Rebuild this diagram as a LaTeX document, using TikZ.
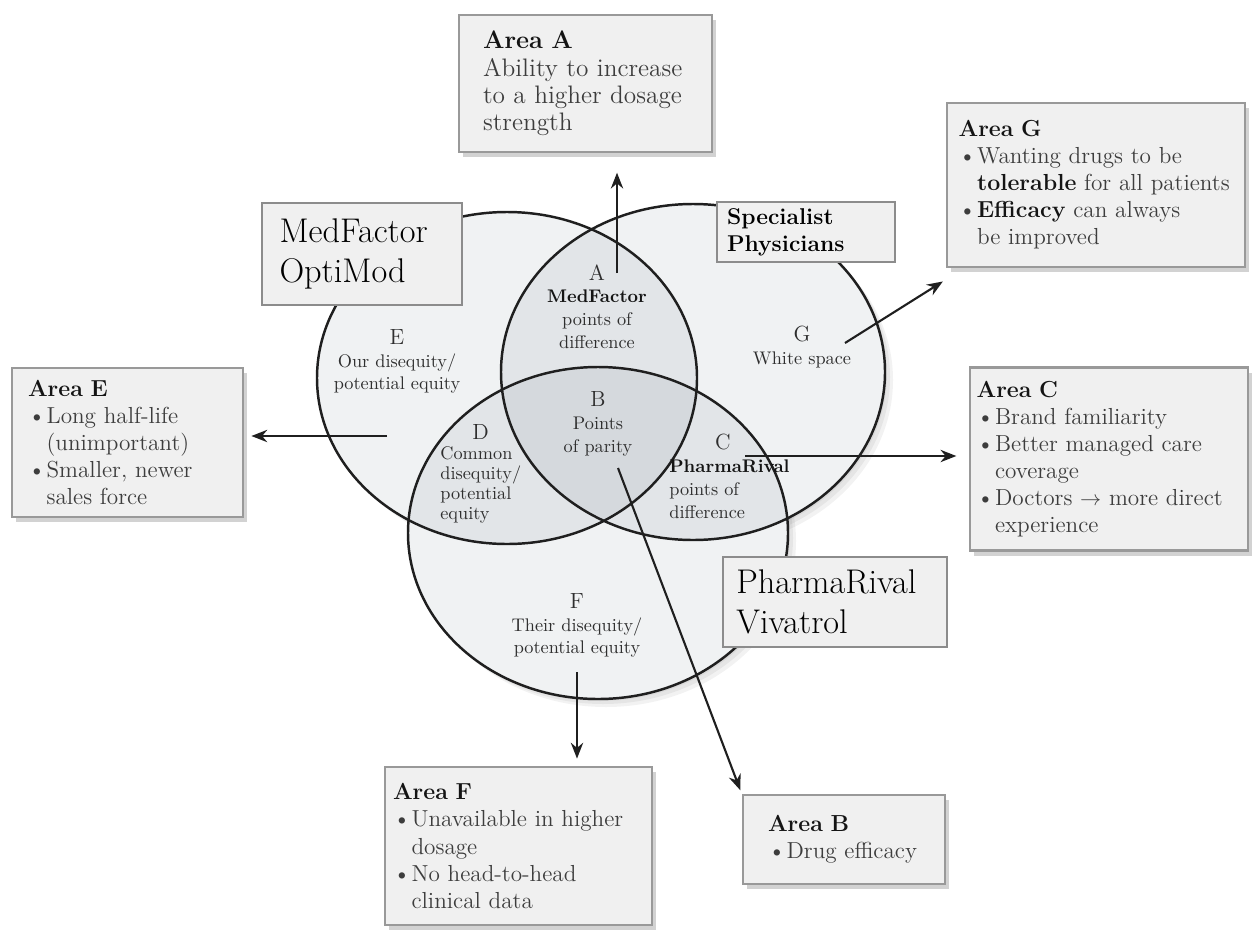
\documentclass[tikz,border=0pt]{standalone}
\usepackage{xcolor}
\usepackage{tikz}
\usetikzlibrary{positioning,arrows.meta,shapes.geometric,shadows,calc}

\definecolor{boxgray}{RGB}{240,240,240}
\definecolor{venngray}{RGB}{40,60,80}
\newcommand{\areafont}{\fontsize{13.2}{15.4}\selectfont}
\newcommand{\areafontA}{\fontsize{14.4}{15.6}\selectfont}
\newcommand{\regionfont}{\fontsize{10.4}{13}\selectfont}
\newcommand{\regionfontsm}{\fontsize{10.4}{11.4}\selectfont}
\newcommand{\regionletter}[1]{{\fontsize{12.5}{13}\selectfont #1}}
\newcommand{\brandfont}{\fontsize{19.5}{23}\selectfont}
\newcommand{\specfont}{\fontsize{13}{15.3}\selectfont}
\newcommand{\areahead}[1]{{\bfseries\color{black!92}#1}\par}
\newcommand{\keyword}[1]{\textbf{\color{black!92}#1}}
\newcommand{\areaitem}{\par\hangindent=0.8em\hangafter=1\noindent\makebox[0.8em][l]{\textbullet}}

\begin{document}
\begin{tikzpicture}[x=0.02cm,y=-0.02cm,
  vennline/.style={line width=1.4pt,black!88},
  venntint/.style={fill=venngray,fill opacity=0.065},
  regionlbl/.style={font=\regionfont,text=black!82,align=center,inner sep=0pt,anchor=north},
  areabox/.style={draw=black!40,line width=1.6pt,fill=boxgray,align=left,inner sep=0pt,font=\areafont,text=black!76,
    drop shadow={shadow xshift=2.5pt,shadow yshift=-3pt,opacity=0.35}},
  brandbox/.style={draw=black!45,line width=1.1pt,fill=boxgray,align=left,inner sep=0pt,text=black},
  callout/.style={-{Stealth[length=9pt,width=7pt]},line width=1.2pt,black!88}]
\useasboundingbox (0,0) rectangle (1257,930);
\fill[white] (0,0) rectangle (1257,930);
% ellipse shadows, base and tint
\foreach \s in {2,5,8}{
  \foreach \cx/\cy/\rx/\ry in {507/378/190/166,693/372/192/168,598/533/190/166}
    \fill[black,opacity=0.05] (\cx+\s,\cy+\s) ellipse [x radius=\rx,y radius=\ry];}
\foreach \cx/\cy/\rx/\ry in {507/378/190/166,693/372/192/168,598/533/190/166}
  \fill[white] (\cx,\cy) ellipse [x radius=\rx,y radius=\ry];
\foreach \cx/\cy/\rx/\ry in {507/378/190/166,693/372/192/168,598/533/190/166}
  \fill[venntint] (\cx,\cy) ellipse [x radius=\rx,y radius=\ry];
\foreach \cx/\cy/\rx/\ry in {507/378/190/166,693/372/192/168,598/533/190/166}
  \draw[vennline] (\cx,\cy) ellipse [x radius=\rx,y radius=\ry];
% region labels
\node[regionlbl] (lblA) at (597,264) {\regionletter{A}\\\keyword{MedFactor}\\points of\\difference};
\node[regionlbl] (lblB) at (598,391) {\regionletter{B}\\Points\\of parity};
\node[regionlbl,align=left,anchor=north west] (lblC) at (669,434) {\hspace*{2.5em}\regionletter{C}\\\keyword{PharmaRival}\\points of\\difference};
\node[regionlbl,align=left,anchor=north west,font=\regionfontsm] (lblD) at (440,424) {\hspace*{1.75em}\regionletter{D}\\Common\\disequity/\\potential\\equity};
\node[regionlbl] (lblE) at (397,329) {\regionletter{E}\\Our disequity/\\potential equity};
\node[regionlbl] (lblF) at (577,593) {\regionletter{F}\\Their disequity/\\potential equity};
\node[regionlbl] (lblG) at (802,326) {\regionletter{G}\\White space};
% brand labels
\node[brandbox,font=\brandfont,minimum width=4cm,minimum height=2.04cm,text width=3.3cm] (medfactor) at (362,254) {MedFactor\\OptiMod};
\node[brandbox,font=\specfont,minimum width=3.56cm,minimum height=1.2cm,text width=3.16cm] (specialist) at (806,232) {\textbf{Specialist}\\\textbf{Physicians}};
\node[brandbox,font=\brandfont,minimum width=4.48cm,minimum height=1.8cm,text width=3.95cm] (pharmarival) at (835,602) {PharmaRival\\Vivatrol};
% area boxes
\node[areabox,font=\areafontA,minimum width=5.06cm,minimum height=2.74cm,text width=4.1cm] (areaA) at (585.5,83.5) {\areahead{Area A}Ability to increase\\to a higher dosage\\strength};
\node[areabox,minimum width=5.96cm,minimum height=3.28cm,text width=5.5cm] (areaG) at (1096,185) {\areahead{Area G}\areaitem Wanting drugs to be\newline\keyword{tolerable} for all patients\areaitem\keyword{Efficacy} can always\newline be improved\par};
\node[areabox,minimum width=5.56cm,minimum height=3.66cm,text width=5.3cm] (areaC) at (1109,459) {\areahead{Area C}\areaitem Brand familiarity\areaitem Better managed care\newline coverage\areaitem Doctors $\rightarrow$ more direct\newline experience\par};
\node[areabox,minimum width=4.62cm,minimum height=2.98cm,text width=3.98cm] (areaE) at (127.5,442.5) {\areahead{Area E}\areaitem Long half-life\newline (unimportant)\areaitem Smaller, newer\newline sales force\par};
\node[areabox,minimum width=5.34cm,minimum height=3.16cm,text width=5.02cm] (areaF) at (518.5,846) {\areahead{Area F}\areaitem Unavailable in higher\newline dosage\areaitem No head-to-head\newline clinical data\par};
\node[areabox,minimum width=4.04cm,minimum height=1.78cm,text width=3.04cm] (areaB) at (844,839.5) {\areahead{Area B}\areaitem Drug efficacy\par};
% callout arrows
\coordinate (ptA) at (617,273);
\coordinate (ptB) at (618,468);
\coordinate (ptC) at (745,456);
\coordinate (ptE) at (387,436);
\coordinate (ptF) at (577,672);
\coordinate (ptG) at (845,343);
\draw[callout,shorten >=11pt] (ptA) -- (ptA |- areaA.south);
\draw[callout,shorten >=4pt] (ptE) -- (ptE -| areaE.east);
\draw[callout,shorten >=7pt] (ptC) -- (ptC -| areaC.west);
\draw[callout,shorten >=4pt] (ptF) -- (ptF |- areaF.north);
\draw[callout,shorten >=14pt] (ptG) -- (areaG);
\draw[callout,shorten >=2pt] (ptB) -- (areaB.north west);
\end{tikzpicture}
\end{document}
